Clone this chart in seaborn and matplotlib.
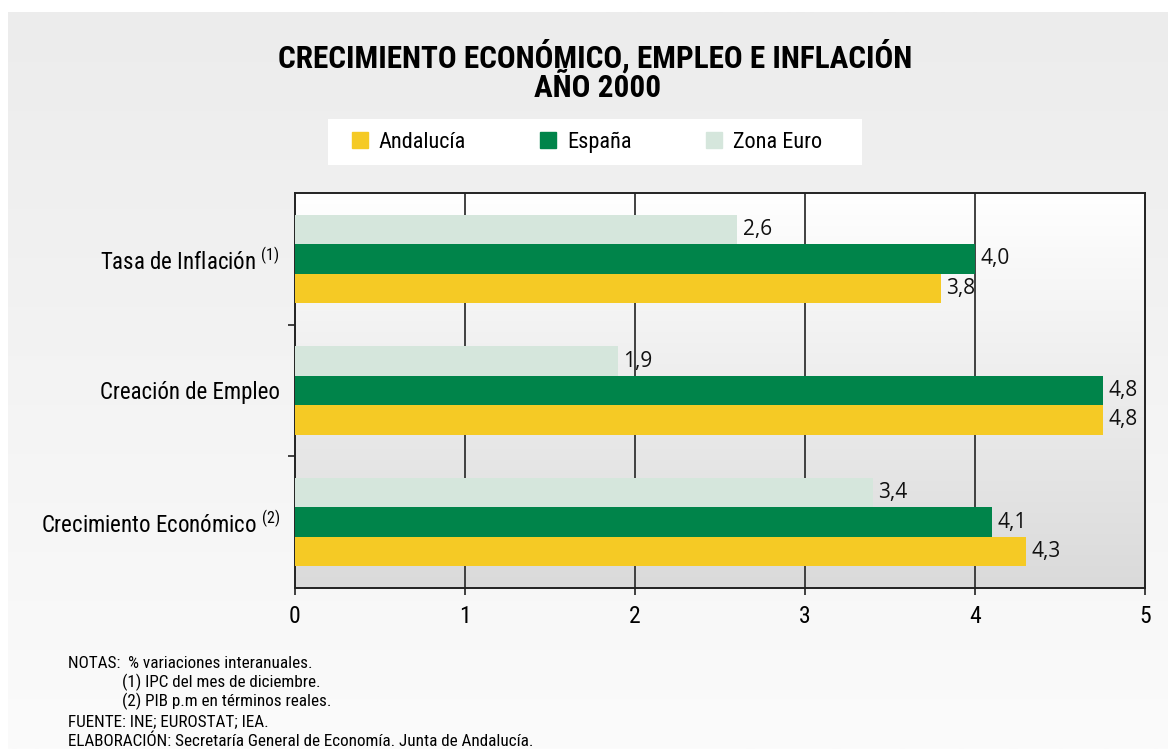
import matplotlib
matplotlib.use("Agg")
import matplotlib.pyplot as plt
import matplotlib.patches as mpatches
from matplotlib.colors import LinearSegmentedColormap
import numpy as np
import pandas as pd
import seaborn as sns

# datos (% variaciones interanuales, año 2000)
indicadores = ["Tasa de Inflación $^{(1)}$", "Creación de Empleo",
               "Crecimiento Económico $^{(2)}$"]
andalucia = [3.8, 4.75, 4.3]
espana = [4.0, 4.75, 4.1]
zona_euro = [2.6, 1.9, 3.4]

series = ["Andalucía", "España", "Zona Euro"]
colores = {"Andalucía": "#F5CA25", "España": "#00844A", "Zona Euro": "#D5E6DC"}

df = pd.DataFrame({
    "indicador": indicadores * 3,
    "valor": andalucia + espana + zona_euro,
    "serie": ["Andalucía"] * 3 + ["España"] * 3 + ["Zona Euro"] * 3,
})

sns.set_style("white")
plt.rcParams["font.family"] = ["Roboto Condensed", "DejaVu Sans"]
plt.rcParams["mathtext.default"] = "regular"
plt.rcParams["text.color"] = "black"
plt.rcParams["xtick.labelcolor"] = "black"
plt.rcParams["ytick.labelcolor"] = "black"

W, H = 1168, 749
fig = plt.figure(figsize=(W / 100, H / 100), dpi=100, facecolor="white")

# fondo gris degradado
bg = fig.add_axes([8 / W, 0, 1 - 8 / W, 1 - 12 / H], zorder=0)
bg_cmap = LinearSegmentedColormap.from_list("bg", ["#ececec", "#fbfbfb"])
bg.imshow(np.linspace(0, 1, 256).reshape(-1, 1), cmap=bg_cmap, aspect="auto",
          extent=(0, 1, 0, 1))
bg.axis("off")

ax = fig.add_axes([295 / W, 1 - 588 / H, 850 / W, 395 / H], zorder=1)
ax.patch.set_alpha(0)

sns.barplot(data=df, x="valor", y="indicador", hue="serie",
            hue_order=["Zona Euro", "España", "Andalucía"], palette=colores,
            orient="h", width=0.67, saturation=1, legend=False, ax=ax, zorder=3,
            linewidth=0, edgecolor="none")

plot_cmap = LinearSegmentedColormap.from_list("pl", ["#ffffff", "#dadada"])
ax.imshow(np.linspace(0, 1, 256).reshape(-1, 1), cmap=plot_cmap, aspect="auto",
          extent=(0, 5, 2.5, -0.5), zorder=0)
ax.set_xlim(0, 5)
ax.set_ylim(2.5, -0.5)

for x in [1, 2, 3, 4]:
    ax.axvline(x, color="#333333", lw=1.3, zorder=1)

for c in ax.containers:
    ax.bar_label(c, labels=[f"{v:.1f}".replace(".", ",") for v in c.datavalues],
                 padding=4, fontsize=15, family="Open Sans", color="#111111")

for s in ax.spines.values():
    s.set_visible(True)
    s.set_color("#222222")
    s.set_linewidth(1.4)

ax.set_xlabel("")
ax.set_ylabel("")
ax.set_xticks(range(6))
ax.tick_params(axis="x", length=5, width=1.2, color="#222222", pad=7,
               labelsize=17, bottom=True)
ax.tick_params(axis="y", which="major", length=0, pad=11, labelsize=16.5, left=False)
ax.set_yticks([0.5, 1.5], minor=True)
ax.tick_params(axis="y", which="minor", length=5, width=1.2, color="#222222", left=True)

# titulo
fig.text(595 / W, 1 - 68 / H, "CRECIMIENTO ECONÓMICO, EMPLEO E INFLACIÓN",
         ha="center", va="baseline", fontsize=22.5, fontweight="bold")
fig.text(598 / W, 1 - 97 / H, "AÑO 2000",
         ha="center", va="baseline", fontsize=22.5, fontweight="bold")

# leyenda
fig.patches.append(mpatches.Rectangle((328 / W, 1 - 165 / H), 534 / W, 46 / H,
                                      transform=fig.transFigure, facecolor="white",
                                      edgecolor="none", zorder=2))
handles = [mpatches.Patch(color=colores[s], label=s) for s in series]
leg = fig.legend(handles=handles, loc="center left",
                 bbox_to_anchor=(352 / W, 1 - 142 / H), ncol=3, frameon=False,
                 fontsize=16, handlelength=0.7, handleheight=0.7,
                 handletextpad=0.5, columnspacing=3.35, borderpad=0,
                 borderaxespad=0)
leg.set_zorder(3)

# notas
notas = [
    (68, 668, "NOTAS:  % variaciones interanuales."),
    (122, 687, "(1) IPC del mes de diciembre."),
    (122, 706, "(2) PIB p.m en términos reales."),
    (68, 726, "FUENTE: INE; EUROSTAT; IEA."),
    (68, 746, "ELABORACIÓN: Secretaría General de Economía. Junta de Andalucía."),
]
for x, y, t in notas:
    fig.text(x / W, 1 - y / H, t, ha="left", va="baseline", fontsize=12.3)

fig.savefig("out.png", dpi=100)
